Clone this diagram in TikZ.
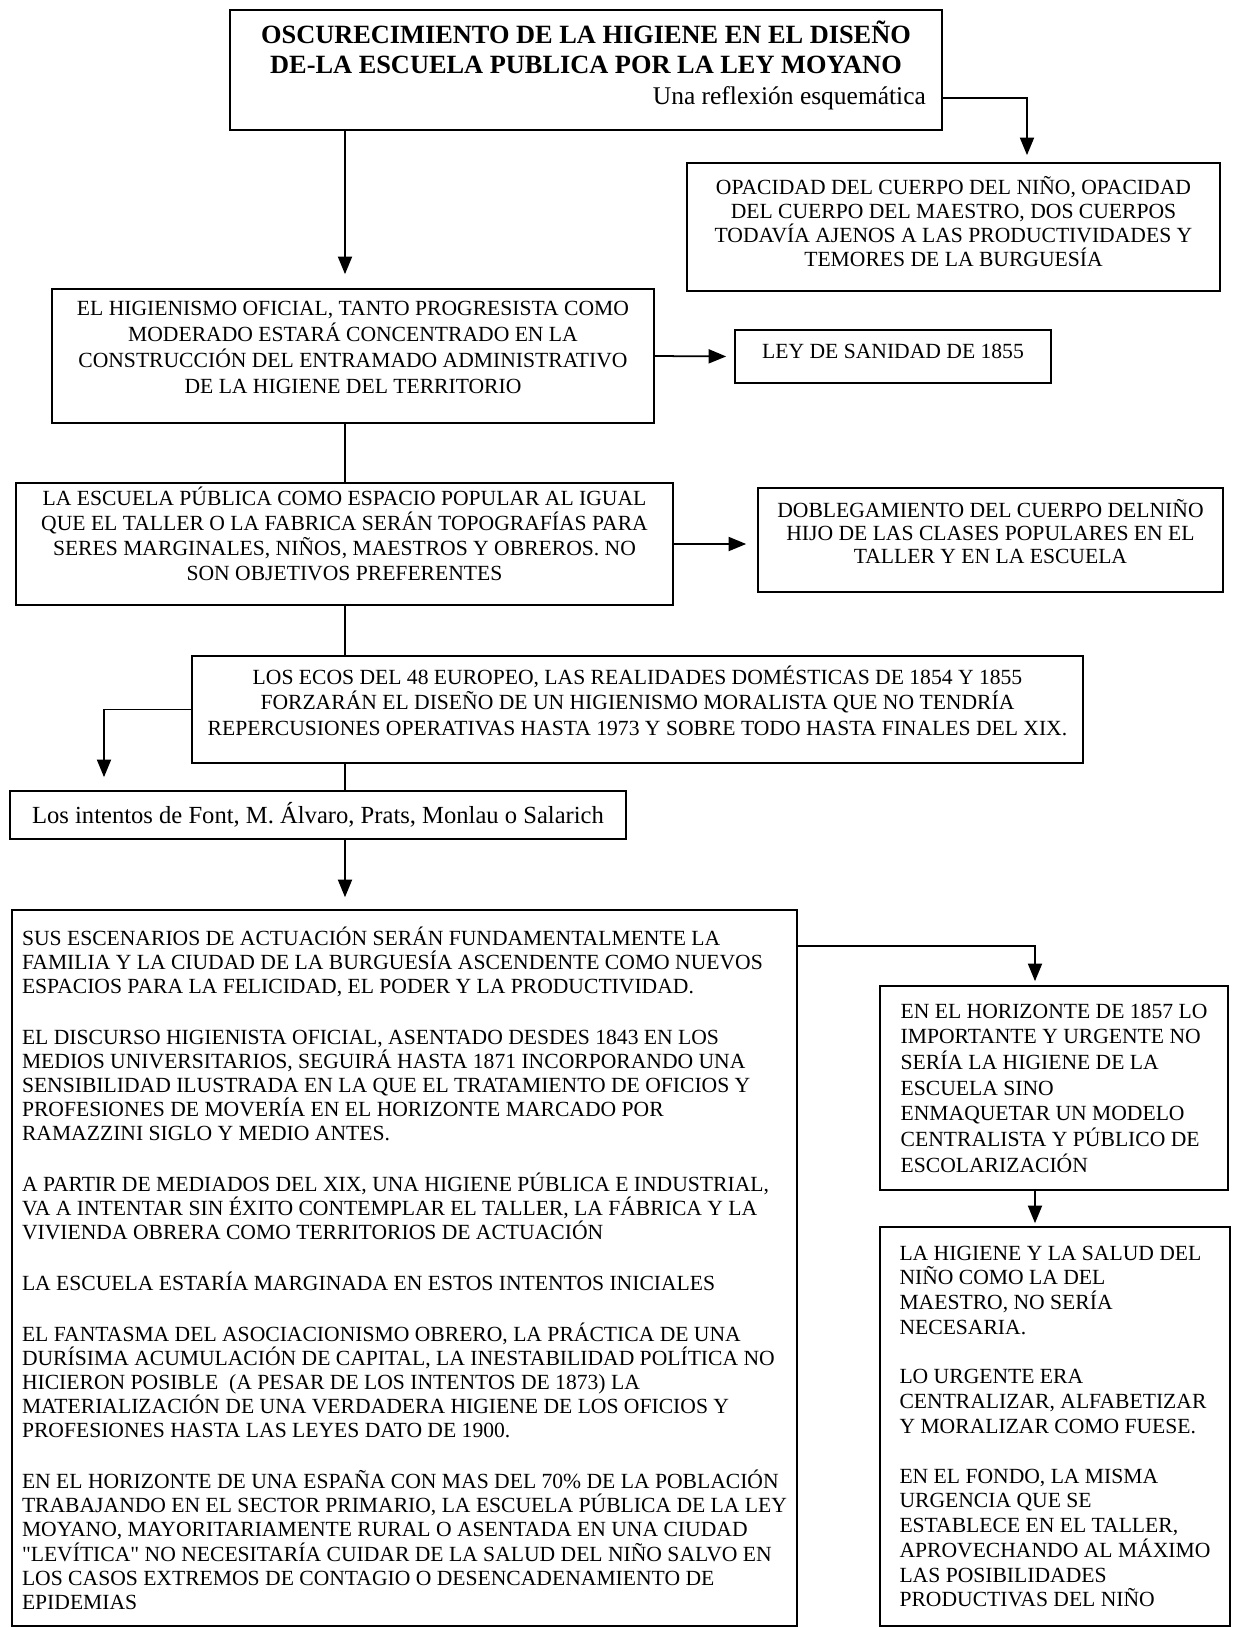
\documentclass[tikz,border=0pt]{standalone}
\usepackage{fontspec}
\setmainfont{Liberation Serif}
\usepackage{tikz}
\usetikzlibrary{arrows.meta, positioning}

\tikzset{
    caja/.style={draw, line width=1pt, inner sep=0pt, align=center, font=\fontsize{12.3}{14.5}\selectfont},
    cajatexto/.style={caja, align=left},
    flecha/.style={-{Triangle[length=10pt,width=8pt]}, line width=1pt}
}

\begin{document}
\begin{tikzpicture}[x=0.02cm, y=-0.02cm]
                    \useasboundingbox (0,0) rectangle (1234,1627);

                    \node[caja, minimum width=14.24cm, minimum height=2.4cm, text depth=0.3cm, align=right, font=\fontsize{15}{17.3}\selectfont\bfseries] (titulo) at (586,70) {\makebox[13.6cm]{OSCURECIMIENTO DE LA HIGIENE EN EL DISEÑO}\\ \makebox[13.6cm]{DE-LA ESCUELA PUBLICA POR LA LEY MOYANO}\\ {\mdseries\fontsize{14.5}{17.3}\selectfont Una reflexión esquemática}};
                    \node[caja, minimum width=10.66cm, minimum height=2.56cm, text depth=0.21cm, font=\fontsize{12.3}{13.7}\selectfont] (opacidad) at (953.5,227) {OPACIDAD DEL CUERPO DEL NIÑO, OPACIDAD\\ DEL CUERPO DEL MAESTRO, DOS CUERPOS\\ TODAVÍA AJENOS A LAS PRODUCTIVIDADES Y\\ TEMORES DE LA BURGUESÍA};
                    \node[caja, minimum width=12.04cm, minimum height=2.68cm, text depth=0.33cm, font=\fontsize{12.3}{14.8}\selectfont] (higienismo) at (353,356) {EL HIGIENISMO OFICIAL, TANTO PROGRESISTA COMO\\ MODERADO ESTARÁ CONCENTRADO EN LA\\ CONSTRUCCIÓN DEL ENTRAMADO ADMINISTRATIVO\\ DE LA HIGIENE DEL TERRITORIO};
                    \node[caja, minimum width=6.32cm, minimum height=1.06cm, text depth=0.2cm] (sanidad) at (893,356.5) {LEY DE SANIDAD DE 1855};
                    \node[caja, minimum width=13.14cm, minimum height=2.44cm, text depth=0.41cm, font=\fontsize{12.3}{14.4}\selectfont] (escuela) at (344.5,544) {LA ESCUELA PÚBLICA COMO ESPACIO POPULAR AL IGUAL\\ QUE EL TALLER O LA FABRICA SERÁN TOPOGRAFÍAS PARA\\ SERES MARGINALES, NIÑOS, MAESTROS Y OBREROS. NO\\ SON OBJETIVOS PREFERENTES};
                    \node[caja, minimum width=9.3cm, minimum height=2.08cm, text depth=0.33cm, font=\fontsize{12.3}{13.1}\selectfont] (doblegamiento) at (990.5,540) {DOBLEGAMIENTO DEL CUERPO DELNIÑO\\ HIJO DE LAS CLASES POPULARES EN EL\\ TALLER Y EN LA ESCUELA};
                    \node[caja, minimum width=17.82cm, minimum height=2.14cm, text depth=0.37cm] (ecos) at (637.5,709.5) {LOS ECOS DEL 48 EUROPEO, LAS REALIDADES DOMÉSTICAS DE 1854 Y 1855\\ FORZARÁN EL DISEÑO DE UN HIGIENISMO MORALISTA QUE NO TENDRÍA\\ REPERCUSIONES OPERATIVAS HASTA 1973 Y SOBRE TODO HASTA FINALES DEL XIX.};
                    \node[cajatexto, minimum width=12.32cm, minimum height=0.96cm, font=\fontsize{14}{16}\selectfont] (intentos) at (318,815) {Los intentos de Font, M. Álvaro, Prats, Monlau o Salarich};
                    \node[cajatexto, minimum width=15.7cm, minimum height=14.32cm, font=\fontsize{12.3}{13.7}\selectfont] (escenarios) at (404.5,1268) {SUS ESCENARIOS DE ACTUACIÓN SERÁN FUNDAMENTALMENTE LA\\ FAMILIA Y LA CIUDAD DE LA BURGUESÍA ASCENDENTE COMO NUEVOS\\ ESPACIOS PARA LA FELICIDAD, EL PODER Y LA PRODUCTIVIDAD.\\[15.3pt]
                        EL DISCURSO HIGIENISTA OFICIAL, ASENTADO DESDES 1843 EN LOS\\ MEDIOS UNIVERSITARIOS, SEGUIRÁ HASTA 1871 INCORPORANDO UNA\\ SENSIBILIDAD ILUSTRADA EN LA QUE EL TRATAMIENTO DE OFICIOS Y\\ PROFESIONES DE MOVERÍA EN EL HORIZONTE MARCADO POR\\ RAMAZZINI SIGLO Y MEDIO ANTES.\\[15.3pt]
                        A PARTIR DE MEDIADOS DEL XIX, UNA HIGIENE PÚBLICA E INDUSTRIAL,\\ VA A INTENTAR SIN ÉXITO CONTEMPLAR EL TALLER, LA FÁBRICA Y LA\\ VIVIENDA OBRERA COMO TERRITORIOS DE ACTUACIÓN\\[15.3pt]
                        LA ESCUELA ESTARÍA MARGINADA EN ESTOS INTENTOS INICIALES\\[15.3pt]
                        EL FANTASMA DEL ASOCIACIONISMO OBRERO, LA PRÁCTICA DE UNA\\ DURÍSIMA ACUMULACIÓN DE CAPITAL, LA INESTABILIDAD POLÍTICA NO\\ HICIERON POSIBLE \ (A PESAR DE LOS INTENTOS DE 1873) LA\\ MATERIALIZACIÓN DE UNA VERDADERA HIGIENE DE LOS OFICIOS Y\\ PROFESIONES HASTA LAS LEYES DATO DE 1900.\\[15.3pt]
                        EN EL HORIZONTE DE UNA ESPAÑA CON MAS DEL 70\% DE LA POBLACIÓN\\ TRABAJANDO EN EL SECTOR PRIMARIO, LA ESCUELA PÚBLICA DE LA LEY\\ MOYANO, MAYORITARIAMENTE RURAL O ASENTADA EN UNA CIUDAD\\ \textquotedbl LEVÍTICA\textquotedbl{} NO NECESITARÍA CUIDAR DE LA SALUD DEL NIÑO SALVO EN\\ LOS CASOS EXTREMOS DE CONTAGIO O DESENCADENAMIENTO DE\\ EPIDEMIAS};
                    \node[cajatexto, minimum width=6.96cm, minimum height=4.08cm, font=\fontsize{12.3}{14.6}\selectfont] (horizonte) at (1054,1088) {EN EL HORIZONTE DE 1857 LO\\ IMPORTANTE Y URGENTE NO\\ SERÍA LA HIGIENE DE LA\\ ESCUELA SINO\\ ENMAQUETAR UN MODELO\\ CENTRALISTA Y PÚBLICO DE\\ ESCOLARIZACIÓN};
                    \node[cajatexto, minimum width=7cm, minimum height=7.98cm, font=\fontsize{12.3}{14.1}\selectfont] (urgencia) at (1055,1426.5) {LA HIGIENE Y LA SALUD DEL\\ NIÑO COMO LA DEL\\ MAESTRO, NO SERÍA\\ NECESARIA.\\[14.1pt]
                        LO URGENTE ERA\\ CENTRALIZAR, ALFABETIZAR\\ Y MORALIZAR COMO FUESE.\\[14.1pt]
                        EN EL FONDO, LA MISMA\\ URGENCIA QUE SE\\ ESTABLECE EN EL TALLER,\\ APROVECHANDO AL MÁXIMO\\ LAS POSIBILIDADES\\ PRODUCTIVAS DEL NIÑO};

                    \coordinate (eje) at (345,0);
                    \coordinate (codoA) at (1027,0);
                    \coordinate (codoB) at (104,0);
                    \coordinate (codoC) at (1035,0);

                    \draw[flecha, shorten >=0.28cm] (titulo.south -| eje) -- (higienismo.north -| eje);
                    \draw[flecha, shorten >=0.14cm] ([yshift=-0.56cm]titulo.east) -| (codoA |- opacidad.north);
                    \draw[flecha, shorten >=0.16cm] (higienismo.east) -- (sanidad.west);
                    \draw[line width=1pt] (higienismo.south -| eje) -- (escuela.north -| eje);
                    \draw[flecha, shorten >=0.22cm] (escuela.east) -- (escuela.east -| doblegamiento.west);
                    \draw[line width=1pt] (escuela.south -| eje) -- (ecos.north -| eje);
                    \draw[line width=1pt] (ecos.south -| eje) -- (intentos.north -| eje);
                    \draw[flecha, shorten >=0.26cm] (ecos.west) -| (codoB |- intentos.north);
                    \draw[flecha, shorten >=0.24cm] (intentos.south -| eje) -- (escenarios.north -| eje);
                    \draw[flecha, shorten >=0.08cm] ([yshift=-0.74cm]escenarios.north east) -| (codoC |- horizonte.north);
                    \draw[flecha, shorten >=0.06cm] (horizonte.south -| codoC) -- (urgencia.north -| codoC);
                \end{tikzpicture}
\end{document}
